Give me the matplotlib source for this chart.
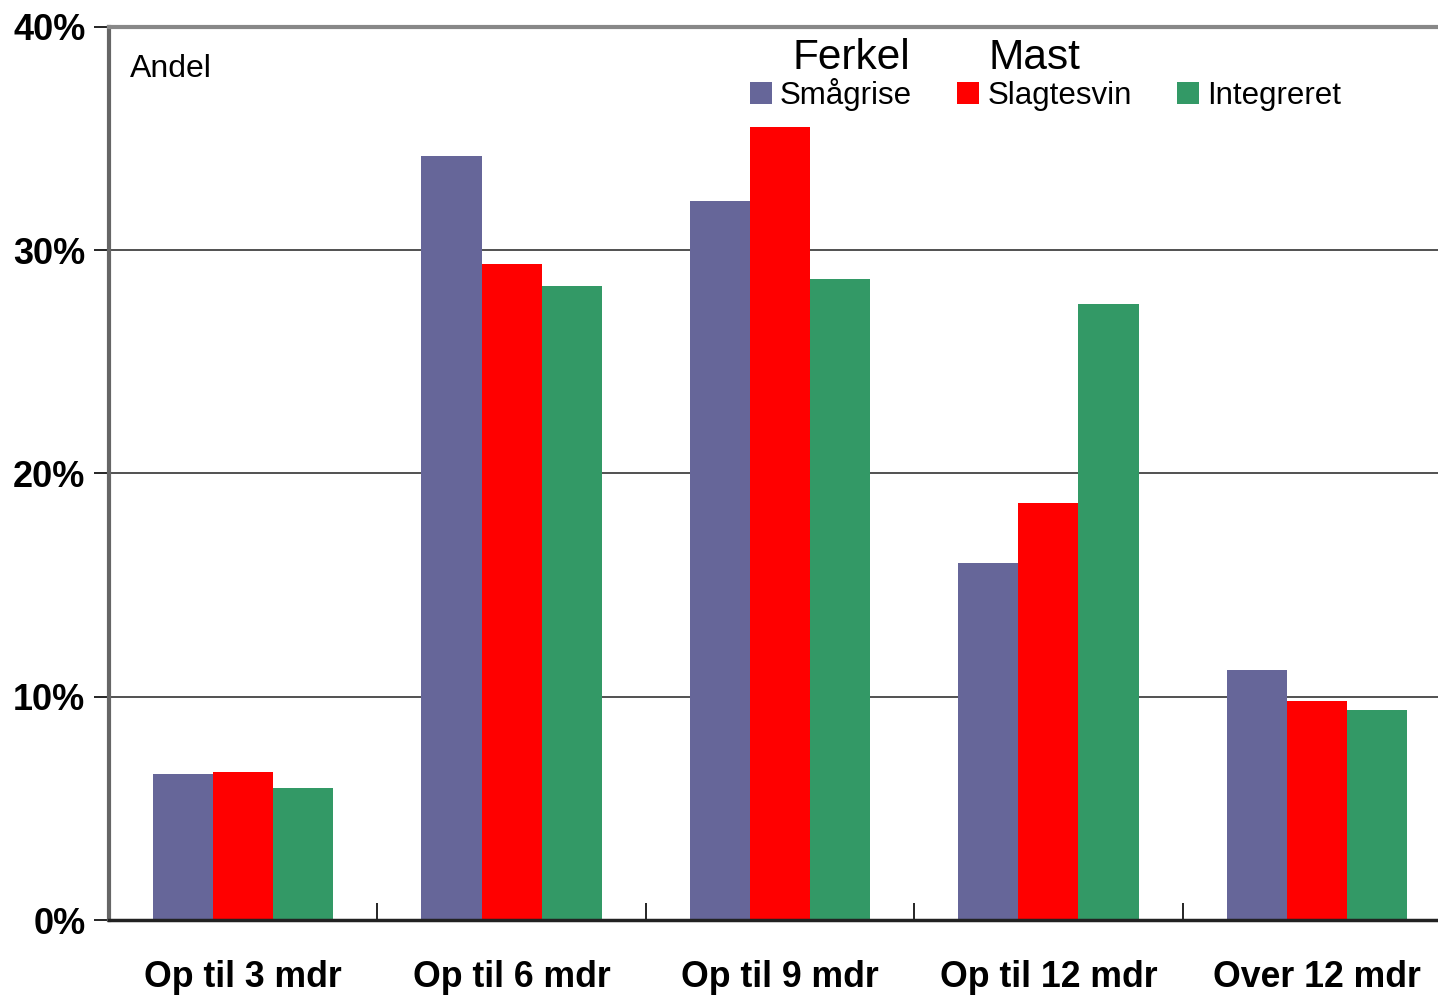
import numpy as np
import matplotlib
matplotlib.use("Agg")
import matplotlib.pyplot as plt
from matplotlib.patches import Patch

plt.rcParams['font.family'] = ['Liberation Sans', 'DejaVu Sans']

# Data (share in percent)
categories = ['Op til 3 mdr', 'Op til 6 mdr', 'Op til 9 mdr', 'Op til 12 mdr', 'Over 12 mdr']
smaagrise = [6.55, 34.2, 32.2, 16.0, 11.2]
slagtesvin = [6.65, 29.4, 35.5, 18.7, 9.8]
integreret = [5.9, 28.4, 28.7, 27.6, 9.4]
series_names = ['Smågrise', 'Slagtesvin', 'Integreret']
colors = ['#666699', '#FF0000', '#339966']
y_ticks = [0, 10, 20, 30, 40]

fig = plt.figure(figsize=(14.38, 9.96), dpi=100)
ax = fig.add_axes([109 / 1438, 76 / 996, 1342 / 1438, 893 / 996])

x = np.arange(len(categories))
width = 0.224
for i, (vals, col) in enumerate(zip([smaagrise, slagtesvin, integreret], colors)):
    ax.bar(x + (i - 1) * width, vals, width, color=col, zorder=3, linewidth=0)

ax.set_xlim(-0.5, len(categories) - 0.5)
ax.set_ylim(0, 40)

# y axis
ax.set_yticks(y_ticks)
ax.set_yticklabels([f'{t}%' for t in y_ticks], fontsize=26, fontweight='bold')
ax.tick_params(axis='y', direction='out', length=11, width=1.2, pad=6, color='black')
for t in y_ticks[1:-1]:
    ax.axhline(t, color='#333333', lw=1.2, zorder=1)

# x axis: labels at group centres, ticks between groups
ax.set_xticks(x)
ax.set_xticklabels(categories, fontsize=25.7, fontweight='bold')
ax.tick_params(axis='x', which='major', length=0, pad=29)
ax.set_xticks(np.arange(0.5, len(categories) - 0.5, 1.0), minor=True)
ax.tick_params(axis='x', which='minor', direction='in', length=12, width=1.2, color='black')

ax.spines['top'].set_color('#888888')
ax.spines['top'].set_linewidth(3)
ax.spines['right'].set_visible(False)
ax.spines['left'].set_color('#666666')
ax.spines['left'].set_linewidth(3)
ax.spines['bottom'].set_color('#222222')
ax.spines['bottom'].set_linewidth(2.5)
ax.spines['bottom'].set_zorder(5)

ax.text(130 / 1438, 1 - 69 / 996, 'Andel', transform=fig.transFigure,
        fontsize=23, va='center', ha='left')

# legend
handles = [Patch(facecolor=c, edgecolor='none') for c in colors]
fig.legend(handles, series_names, loc='upper left',
           bbox_to_anchor=(750 / 1438, 1 - 78 / 996), bbox_transform=fig.transFigure,
           ncol=3, frameon=False, fontsize=22.5, handlelength=0.7, handleheight=0.7,
           handletextpad=0.26, columnspacing=1.45, borderpad=0, borderaxespad=0)
fig.text(851 / 1438, 1 - 58 / 996, 'Ferkel', fontsize=30.5, ha='center', va='center')
fig.text(1034 / 1438, 1 - 58 / 996, 'Mast', fontsize=30.5, ha='center', va='center')

fig.savefig('out.png', dpi=100)
